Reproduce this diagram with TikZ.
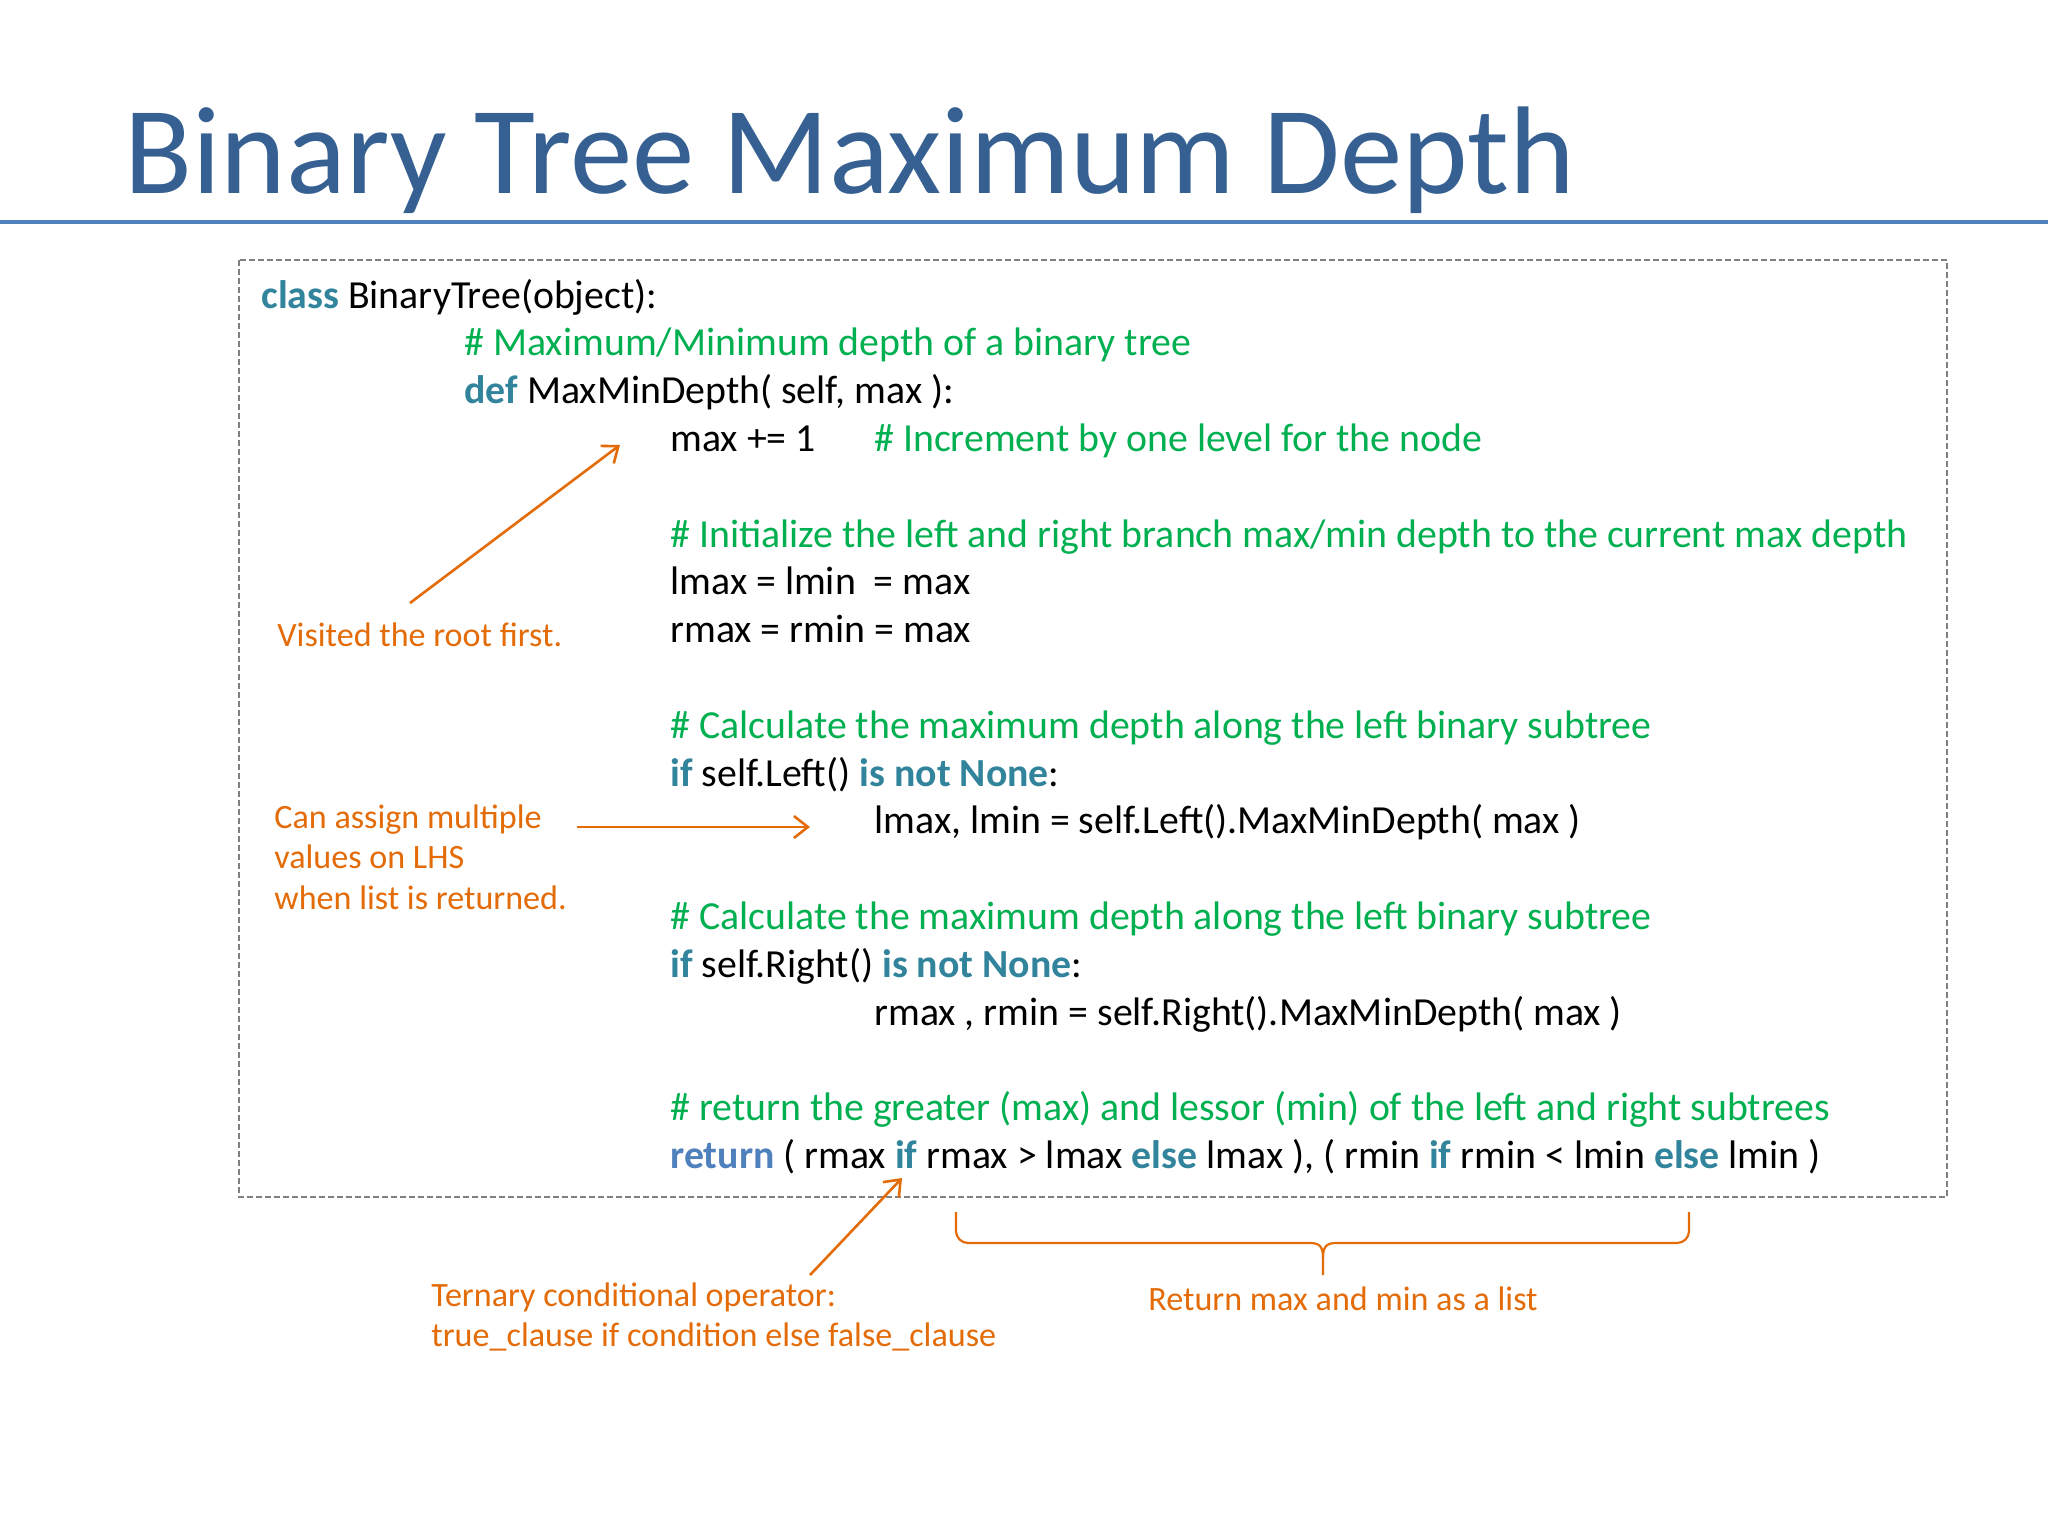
\documentclass[tikz,border=0pt]{standalone}
\usepackage{fontspec}
\setmainfont{Carlito}
\usetikzlibrary{arrows.meta}
\definecolor{titleblue}{RGB}{54,96,146}
\definecolor{ruleblue}{RGB}{79,129,189}
\definecolor{kwteal}{RGB}{49,132,155}
\definecolor{retblue}{RGB}{79,129,189}
\definecolor{cmgreen}{RGB}{0,176,80}
\definecolor{annorange}{RGB}{227,108,9}
\definecolor{boxgray}{RGB}{127,127,127}
\newcommand{\kw}[1]{\textcolor{kwteal}{\textbf{#1}}}
\newcommand{\rkw}[1]{\textcolor{retblue}{\textbf{#1}}}
\begin{document}
\begin{tikzpicture}[x=0.5pt,y=-0.5pt,
  code/.style={anchor=base west,inner sep=0pt,font=\fontsize{19.9}{24.3}\selectfont,text=black},
  cmt/.style={code,text=cmgreen},
  ann/.style={anchor=base west,inner sep=0pt,font=\fontsize{17.05}{20.6}\selectfont,text=annorange,align=left},
  annarrow/.style={draw=annorange,line width=1.3pt,-{Straight Barb[length=7pt,width=11pt,line width=1.3pt]}},
  bracestyle/.style={draw=annorange,line width=1.1pt}]
\useasboundingbox (0,0) rectangle (2048,1536);
\fill[white] (0,0) rectangle (2048,1536);
% title
\node[anchor=base west,inner sep=0pt,font=\fontsize{62.4}{70}\selectfont,text=titleblue] (title) at (124,193) {Binary Tree Maximum Depth};
\draw[ruleblue,line width=2.3pt] (0,222) coordinate (rulel) -- (2048,222) coordinate (ruler);
% code box
\draw[boxgray,line width=0.9pt,dash pattern=on 3pt off 1.5pt] (239,260) rectangle (1947,1197);
\node[code] (l1) at (261,308) {\kw{class} BinaryTree(object):};
\node[cmt] (l2) at (464,355.8) {\# Maximum/Minimum depth of a binary tree};
\node[code] (l3) at (464,403.6) {\kw{def} MaxMinDepth( self, max ):};
\node[code] (l4) at (670,451.4) {max += 1};
\node[cmt] (l4c) at (874,451.4) {\# Increment by one level for the node};
\node[cmt] (l5) at (670,547) {\# Initialize the left and right branch max/min depth to the current max depth};
\node[code] (l6) at (670,594.8) {lmax = lmin\ \ = max};
\node[code] (l7) at (670,642.6) {rmax = rmin = max};
\node[cmt] (l8) at (670,738.2) {\# Calculate the maximum depth along the left binary subtree};
\node[code] (l9) at (670,786) {\kw{if} self.Left() \kw{is not None}:};
\node[code] (l10) at (874,833.8) {lmax, lmin = self.Left().MaxMinDepth( max )};
\node[cmt] (l11) at (670,929.4) {\# Calculate the maximum depth along the left binary subtree};
\node[code] (l12) at (670,977.2) {\kw{if} self.Right() \kw{is not None}:};
\node[code] (l13) at (874,1025) {rmax , rmin = self.Right().MaxMinDepth( max )};
\node[cmt] (l14) at (670,1120.6) {\# return the greater (max) and lessor (min) of the left and right subtrees};
\node[code] (l15) at (670,1168.4) {\rkw{return} ( rmax \kw{if} rmax > lmax \kw{else} lmax ), ( rmin \kw{if} rmin < lmin \kw{else} lmin )};
% annotations
\node[ann] (a1) at (277,646.5) {Visited the root first.};
\node[ann] (a2) at (274,828.5) {Can assign multiple};
\node[ann] (a2b) at (274,868.5) {values on LHS};
\node[ann] (a2c) at (274,909.5) {when list is returned.};
\node[ann] (a3) at (431,1306) {Ternary conditional operator:};
\node[ann] (a3b) at (431,1346) {true\_clause if condition else false\_clause};
\node[ann] (a4) at (1148,1310) {Return max and min as a list};
% arrows
\coordinate (v1) at (410,603);
\coordinate (v2) at (620,445);
\draw[annarrow] (v1) -- (v2);
\coordinate (c1) at (577,827);
\coordinate (c2) at (810,827);
\draw[annarrow] (c1) -- (c2);
\coordinate (t1) at (810,1275);
\coordinate (t2) at (902,1178);
\draw[annarrow] (t1) -- (t2);
% brace
\coordinate (bl) at (956,1212);
\coordinate (br) at (1689,1212);
\coordinate (bt) at (1323,1275);
\draw[bracestyle,rounded corners=6pt] (bl) -- (956,1243) -- (1310,1243);
\draw[bracestyle] (1310,1243) .. controls (1320,1243) and (1323,1247) .. (1323,1258) -- (bt);
\draw[bracestyle,rounded corners=6pt] (br) -- (1689,1243) -- (1336,1243);
\draw[bracestyle] (1336,1243) .. controls (1326,1243) and (1323,1247) .. (1323,1258);
\end{tikzpicture}
\end{document}
